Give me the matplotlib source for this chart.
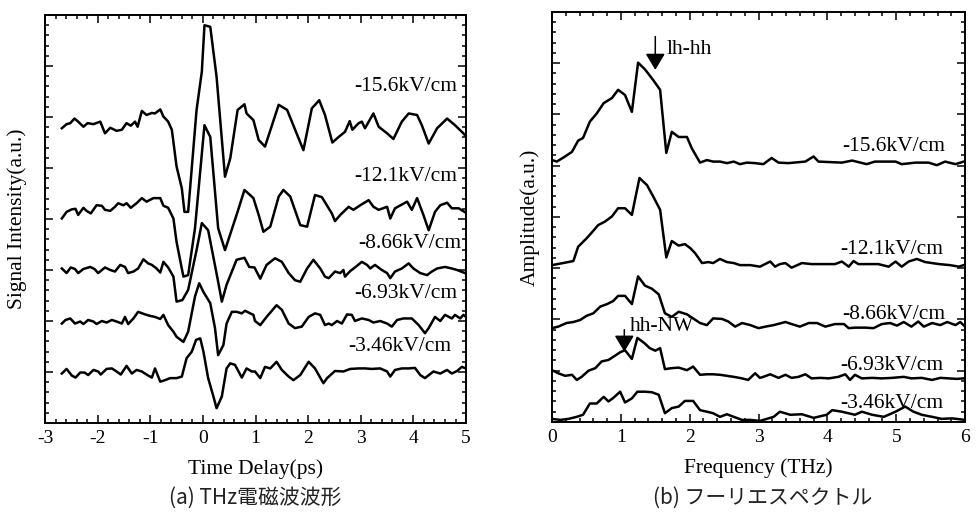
import matplotlib
matplotlib.use("Agg")
import matplotlib.pyplot as plt
from matplotlib.ticker import MultipleLocator

plt.rcParams['font.family'] = ['Liberation Serif', 'DejaVu Serif']
plt.rcParams['axes.unicode_minus'] = False

# ---- (a) time-domain waveforms, offset traces (a.u.) ----
fields = ["-15.6kV/cm", "-12.1kV/cm", "-8.66kV/cm", "-6.93kV/cm", "-3.46kV/cm"]

t1 = [-2.68,-2.59,-2.52,-2.44,-2.37,-2.27,-2.19,-2.08,-1.95,-1.86,-1.76,-1.64,-1.54,-1.45,-1.37,-1.29,-1.24,-1.16,-1.07,-0.97,
      -0.91,-0.81,-0.75,-0.66,-0.59,-0.50,-0.40,-0.35,-0.28,-0.12,-0.02,0.03,0.14,0.26,0.42,0.52,0.66,0.79,0.83,0.96,
      1.06,1.18,1.44,1.60,1.91,2.07,2.21,2.32,2.46,2.58,2.70,2.79,2.84,2.96,3.02,3.08,3.24,3.34,3.50,3.62,
      3.78,3.91,4.07,4.16,4.29,4.45,4.64,4.79,4.95,5.0]
s1 = [5.78,5.86,5.88,5.97,5.91,5.81,5.88,5.86,5.91,5.68,5.79,5.73,5.75,5.88,5.83,5.91,5.81,6.12,6.04,6.08,
      6.07,6.15,6.01,5.91,5.75,5.03,4.60,4.14,4.14,6.14,6.89,7.80,7.77,6.79,4.83,5.19,6.14,6.25,6.07,5.94,
      5.55,5.42,6.24,6.14,5.35,6.17,6.33,6.04,5.50,5.61,5.71,5.92,5.75,5.88,5.91,5.78,6.07,5.81,5.68,5.57,
      5.91,6.07,6.04,5.84,5.48,5.78,5.97,5.84,5.68,5.62]

t2 = [-2.68,-2.59,-2.49,-2.42,-2.37,-2.27,-2.21,-2.13,-2.02,-1.92,-1.86,-1.76,-1.67,-1.61,-1.51,-1.45,-1.37,-1.26,-1.16,-1.07,
      -0.94,-0.81,-0.75,-0.66,-0.56,-0.50,-0.37,-0.28,-0.15,0.03,0.14,0.29,0.42,0.64,0.79,0.96,1.06,1.15,1.28,1.44,
      1.53,1.66,1.85,1.98,2.13,2.26,2.45,2.51,2.61,2.77,2.86,2.99,3.15,3.24,3.34,3.50,3.56,3.65,3.88,3.97,
      4.07,4.19,4.29,4.41,4.51,4.64,4.73,4.86,5.0]
s2 = [4.01,4.14,4.19,4.20,4.08,4.22,4.16,4.11,4.27,4.26,4.18,4.16,4.24,4.31,4.27,4.31,4.22,4.31,4.41,4.34,
      4.41,4.41,4.26,4.22,4.01,3.55,2.87,2.90,3.82,5.84,5.61,3.82,3.39,4.08,4.57,4.41,4.08,3.75,3.85,4.44,
      4.57,4.44,3.88,3.85,4.47,4.43,4.11,3.96,4.08,4.24,4.18,4.27,4.37,4.24,4.18,4.24,4.01,4.21,4.34,4.18,
      4.41,4.08,3.78,4.14,4.27,4.32,4.21,4.21,4.12]

t3 = [-2.68,-2.59,-2.51,-2.43,-2.37,-2.27,-2.14,-2.06,-1.99,-1.86,-1.76,-1.67,-1.57,-1.48,-1.42,-1.32,-1.23,-1.13,-1.04,-0.97,
      -0.88,-0.81,-0.75,-0.66,-0.56,-0.50,-0.39,-0.28,-0.12,-0.02,0.10,0.29,0.36,0.45,0.64,0.79,0.88,0.98,1.09,1.21,
      1.37,1.50,1.63,1.75,1.85,1.98,2.10,2.23,2.32,2.39,2.51,2.61,2.67,2.70,2.80,2.89,3.02,3.12,3.18,3.27,
      3.40,3.50,3.56,3.65,3.78,3.91,4.00,4.13,4.26,4.35,4.45,4.60,4.73,4.83,4.98]
s3 = [3.03,2.94,3.05,3.02,2.94,3.02,3.06,3.02,2.94,3.05,3.00,2.97,3.10,3.06,2.94,2.97,3.03,3.21,3.13,3.10,
      3.03,2.95,3.16,3.05,2.87,2.38,2.41,2.61,3.39,3.92,3.78,2.77,2.38,2.71,3.20,3.24,3.06,3.05,2.83,3.10,
      3.23,3.16,2.94,2.80,2.77,3.03,3.20,3.03,2.87,2.84,2.97,2.94,3.00,2.87,2.98,3.05,3.16,3.10,3.03,3.10,
      3.00,2.94,2.84,2.97,3.03,3.13,3.03,2.94,2.90,2.97,3.03,3.06,3.03,3.00,2.94]

t4 = [-2.68,-2.61,-2.52,-2.43,-2.33,-2.27,-2.18,-2.08,-2.02,-1.92,-1.83,-1.73,-1.64,-1.54,-1.48,-1.42,-1.32,-1.23,-1.10,-1.00,
      -0.91,-0.81,-0.75,-0.66,-0.56,-0.50,-0.37,-0.28,-0.15,-0.07,0.01,0.14,0.23,0.29,0.39,0.45,0.55,0.64,0.74,0.80,
      0.96,0.99,1.09,1.21,1.40,1.50,1.63,1.75,1.88,2.01,2.13,2.23,2.32,2.39,2.45,2.55,2.64,2.74,2.83,2.89,
      3.02,3.15,3.24,3.37,3.50,3.59,3.69,3.81,3.97,4.10,4.22,4.29,4.41,4.51,4.60,4.73,4.79,4.89,4.95,5.0]
s4 = [1.95,2.02,2.05,1.95,1.99,1.94,2.02,1.99,1.94,2.00,1.97,2.02,1.99,1.95,2.08,1.94,2.05,2.18,2.13,2.10,
      2.08,2.04,2.12,1.92,1.79,1.69,1.59,1.79,2.48,2.74,2.57,2.35,1.86,1.33,1.53,1.95,2.18,2.18,2.15,2.20,
      2.12,2.00,1.92,2.08,2.31,2.22,1.95,1.86,1.89,2.08,2.15,2.12,1.92,1.95,1.92,2.00,1.95,2.13,2.12,2.00,
      2.05,2.02,1.97,2.00,1.95,1.89,2.02,2.05,2.05,1.92,1.76,1.86,2.08,2.00,2.12,2.05,2.12,2.05,2.12,2.08]

t5 = [-2.68,-2.59,-2.49,-2.42,-2.33,-2.25,-2.18,-2.08,-1.99,-1.94,-1.83,-1.73,-1.64,-1.56,-1.45,-1.35,-1.26,-1.16,-1.07,-0.97,
      -0.91,-0.81,-0.72,-0.62,-0.50,-0.40,-0.31,-0.21,-0.13,-0.05,0.01,0.10,0.20,0.26,0.36,0.45,0.52,0.61,0.74,0.83,
      0.93,0.99,1.09,1.18,1.28,1.40,1.50,1.63,1.72,1.85,2.01,2.13,2.29,2.36,2.51,2.67,2.80,2.96,3.08,3.21,
      3.37,3.50,3.56,3.65,3.78,3.91,4.03,4.13,4.22,4.38,4.51,4.64,4.73,4.83,4.92,5.0]
s5 = [0.97,1.06,0.93,0.89,0.99,0.99,0.94,1.04,1.01,0.95,1.06,1.07,1.01,0.95,1.12,0.97,1.04,1.01,0.95,0.89,
      1.07,0.81,0.84,0.88,0.88,0.91,1.27,1.40,1.63,1.66,1.40,0.88,0.52,0.29,0.52,1.07,1.17,1.14,0.89,1.07,
      1.01,1.01,0.88,1.10,1.07,1.20,1.04,0.91,0.84,0.94,1.20,1.07,0.78,0.88,1.02,1.01,1.06,1.07,1.07,1.06,
      1.07,1.01,0.91,1.04,1.07,1.07,1.08,0.94,0.88,1.01,0.97,1.04,0.97,1.02,1.10,1.07]

time_traces = [(t1, s1), (t2, s2), (t3, s3), (t4, s4), (t5, s5)]
time_label_x = [4.83, 4.83, 4.92, 4.83, 4.72]
time_label_y = [6.59, 4.83, 3.52, 2.54, 1.50]

# ---- (b) Fourier spectra, offset traces (a.u.) ----
f1 = [0.0,0.07,0.19,0.29,0.38,0.45,0.55,0.65,0.75,0.87,0.96,1.06,1.16,1.25,1.35,1.47,1.57,1.66,1.74,1.84,
      1.96,2.03,2.15,2.25,2.34,2.44,2.54,2.64,2.73,2.83,2.95,3.07,3.19,3.29,3.43,3.68,3.80,3.87,4.21,4.36,
      4.57,4.69,4.99,5.08,5.28,5.47,5.59,5.71,5.86,5.98]
a1 = [5.11,5.08,5.18,5.27,5.49,5.54,5.86,6.02,6.22,6.32,6.48,6.38,6.05,7.01,6.88,6.67,6.48,5.25,5.66,5.56,
      5.56,5.34,5.06,5.11,5.08,5.08,5.05,5.08,5.03,5.06,5.05,5.03,5.15,5.06,5.05,5.08,5.18,5.08,5.06,5.10,
      5.03,5.08,5.08,5.03,5.06,5.06,5.01,5.08,5.03,5.08]

f2 = [0.0,0.16,0.31,0.38,0.50,0.58,0.67,0.77,0.87,0.96,1.06,1.16,1.27,1.38,1.47,1.57,1.66,1.74,1.84,1.93,
      2.01,2.08,2.18,2.27,2.34,2.44,2.54,2.64,2.73,2.88,3.02,3.17,3.24,3.31,3.39,3.48,3.63,3.77,3.92,4.11,
      4.21,4.31,4.38,4.45,4.60,4.74,4.89,4.99,5.08,5.18,5.30,5.42,5.62,5.78,5.91,5.98]
a2 = [3.06,3.10,3.14,3.42,3.58,3.70,3.84,3.91,4.01,4.17,4.17,4.04,4.76,4.62,4.40,4.14,3.21,3.53,3.44,3.47,
      3.39,3.29,3.10,3.12,3.10,3.18,3.12,3.10,3.06,3.06,3.03,3.13,3.03,3.08,3.10,3.01,3.10,3.08,3.08,3.08,
      3.13,3.03,3.14,3.08,3.08,3.08,3.03,3.13,3.03,3.13,3.18,3.12,3.08,3.06,3.03,3.06]

f3 = [0.0,0.09,0.21,0.31,0.41,0.50,0.60,0.70,0.80,0.89,0.96,1.06,1.16,1.25,1.35,1.45,1.55,1.64,1.74,1.84,
      1.96,2.05,2.15,2.25,2.34,2.47,2.56,2.66,2.76,2.88,3.00,3.10,3.22,3.39,3.48,3.60,3.73,3.85,3.97,4.11,
      4.24,4.31,4.40,4.55,4.67,4.79,4.91,5.01,5.11,5.22,5.32,5.40,5.52,5.64,5.74,5.86,5.93,6.0]
a3 = [1.83,1.86,1.93,1.95,1.99,2.07,2.12,2.25,2.30,2.36,2.46,2.46,2.30,2.84,2.66,2.60,2.49,2.12,2.05,2.15,
      2.10,2.02,1.93,1.89,2.02,2.01,1.96,1.86,1.93,1.89,1.83,1.86,1.89,1.95,1.91,1.86,1.93,1.93,1.86,1.91,
      1.91,1.83,1.84,1.84,1.83,1.91,1.93,1.88,1.95,1.86,1.96,1.86,1.93,1.89,1.95,1.89,1.95,1.86]

f4 = [0.0,0.09,0.19,0.29,0.36,0.43,0.53,0.63,0.72,0.82,0.89,0.99,1.06,1.16,1.24,1.34,1.42,1.50,1.57,1.64,
      1.74,1.84,1.96,2.05,2.15,2.25,2.34,2.44,2.54,2.64,2.76,2.85,2.95,3.02,3.07,3.17,3.29,3.39,3.48,3.58,
      3.68,3.77,3.90,4.02,4.16,4.26,4.33,4.40,4.50,4.65,4.79,4.94,5.11,5.22,5.37,5.52,5.64,5.76,5.88,5.98]
a4 = [1.01,0.95,0.90,0.92,0.82,0.88,1.00,1.05,1.18,1.21,1.27,1.36,1.40,1.23,1.64,1.54,1.44,1.39,1.44,1.03,
      1.05,1.06,1.01,1.08,0.92,0.93,0.93,0.92,0.90,0.88,0.85,0.82,0.95,0.86,0.88,0.93,0.86,0.92,0.86,0.88,
      0.93,0.85,0.86,0.85,0.88,0.93,0.82,0.92,0.85,0.86,0.85,0.86,0.88,0.85,0.86,0.82,0.86,0.85,0.84,0.85]

f5 = [0.0,0.12,0.24,0.36,0.45,0.55,0.65,0.75,0.82,0.89,0.99,1.06,1.16,1.24,1.35,1.45,1.55,1.64,1.74,1.84,
      1.93,2.05,2.15,2.25,2.34,2.44,2.54,2.64,2.76,2.88,3.02,3.22,3.31,3.46,3.63,3.80,3.99,4.07,4.21,4.40,
      4.50,4.65,4.82,4.99,5.13,5.25,5.37,5.52,5.66,5.81,6.0]
a5 = [0.06,0.04,0.06,0.10,0.14,0.36,0.36,0.49,0.40,0.47,0.59,0.38,0.46,0.59,0.59,0.58,0.53,0.17,0.27,0.30,
      0.41,0.41,0.23,0.20,0.17,0.10,0.15,0.10,0.04,0.04,0.02,0.10,0.20,0.14,0.15,0.08,0.14,0.23,0.20,0.14,
      0.20,0.14,0.10,0.20,0.30,0.20,0.14,0.10,0.06,0.07,0.04]

spectra = [(f1, a1), (f2, a2), (f3, a3), (f4, a4), (f5, a5)]
spec_label_x = [5.71, 5.69, 5.71, 5.69, 5.69]
spec_label_y = [5.37, 3.36, 2.10, 1.11, 0.36]

fig = plt.figure(figsize=(9.76, 5.19), dpi=100)
axA = fig.add_axes([0.0461, 0.185, 0.4314, 0.786])
axB = fig.add_axes([0.5656, 0.187, 0.4232, 0.790])

def style(ax):
    for sp in ax.spines.values():
        sp.set_linewidth(1.4)
    ax.tick_params(which='both', direction='in', top=True, right=True, width=1.1)
    ax.tick_params(which='major', length=5.5, labelsize=14, pad=5)
    ax.tick_params(which='minor', length=3.2)
    ax.yaxis.set_major_locator(MultipleLocator(1))
    ax.yaxis.set_minor_locator(MultipleLocator(0.2))
    ax.set_yticklabels([])
    ax.set_ylim(0, 8)

for (t, s) in time_traces:
    axA.plot(t, s, color='black', lw=1.8)
for lab, x, y in zip(fields, time_label_x, time_label_y):
    axA.text(x, y, lab, ha='right', va='center', fontsize=15.5)
axA.set_xlim(-3, 5)
axA.xaxis.set_major_locator(MultipleLocator(1))
axA.xaxis.set_minor_locator(MultipleLocator(0.2))
style(axA)
axA.set_xlabel("Time Delay(ps)", fontsize=15.5, labelpad=9)
axA.set_ylabel("Signal Intensity(a.u.)", fontsize=15.5)
axA.yaxis.set_label_coords(-0.043, 0.5)

for (f, a) in spectra:
    axB.plot(f, a, color='black', lw=1.8)
for lab, x, y in zip(fields, spec_label_x, spec_label_y):
    axB.text(x, y, lab, ha='right', va='center', fontsize=15.5)
axB.set_xlim(0, 6)
axB.xaxis.set_major_locator(MultipleLocator(1))
axB.xaxis.set_minor_locator(MultipleLocator(0.2))
style(axB)
axB.set_xlabel("Frequency (THz)", fontsize=15.5, labelpad=9)
axB.set_ylabel("Amplitude(a.u.)", fontsize=15.5)
axB.yaxis.set_label_coords(-0.029, 0.5)

arrow = dict(arrowstyle='-|>,head_length=0.5,head_width=0.3', color='black',
             lw=1.1, shrinkA=0, shrinkB=0, mutation_scale=20)
axB.annotate("", xy=(1.5, 6.87), xytext=(1.5, 7.52), arrowprops=arrow)
axB.text(1.67, 7.26, "lh-hh", ha='left', va='center', fontsize=15.5)
axB.annotate("", xy=(1.05, 1.37), xytext=(1.05, 1.80), arrowprops=arrow)
axB.text(1.13, 1.86, "hh-NW", ha='left', va='center', fontsize=15.5)

cap = dict(fontsize=15, color='#222222', ha='center', va='center',
           family=['Noto Sans CJK JP', 'DejaVu Sans'])
fig.text(0.262, 0.040, "(a) THz電磁波波形", **cap)
fig.text(0.781, 0.040, "(b) フーリエスペクトル", **cap)

fig.savefig("out.png", dpi=100)
